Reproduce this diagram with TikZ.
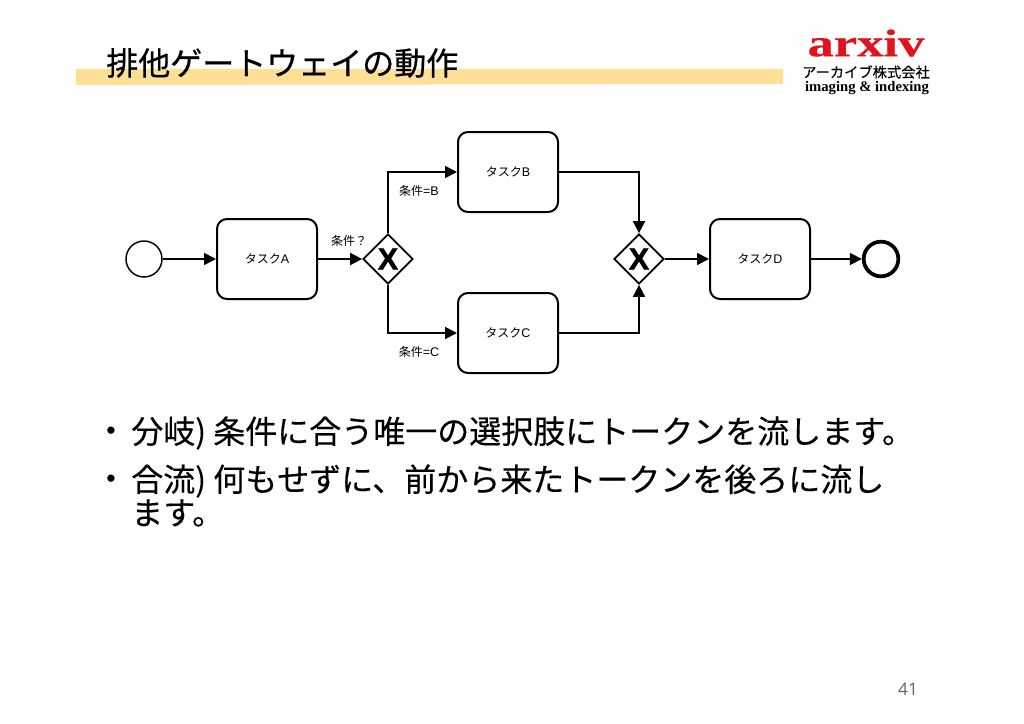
\documentclass[tikz,border=0pt]{standalone}
\usepackage{fontspec}
\setmainfont{Noto Sans CJK JP}[FakeBold=0.25]
\newfontfamily\plaincjk{Noto Sans CJK JP}
\newfontfamily\titlefont{Noto Sans CJK JP}[FakeBold=0.6]
\newfontfamily\logofont{Liberation Serif}[FakeStretch=1.36,BoldFeatures={FakeBold=0.5,FakeStretch=1.36}]
\newfontfamily\logosmall{Liberation Serif}
\newfontfamily\numfont{Open Sans}
\newfontfamily\latinfont{Liberation Sans}
\newfontfamily\markfont{Liberation Sans}[BoldFeatures={FakeBold=1.2}]
\usetikzlibrary{arrows.meta,shapes.geometric}
\definecolor{band}{RGB}{253,224,150}
\definecolor{logored}{RGB}{225,20,30}
\definecolor{pagenum}{RGB}{100,100,100}
\tikzset{
  x=0.75pt,y=-0.75pt,
  task/.style={draw=black,line width=1.5pt,rounded corners=7.5pt,minimum width=75pt,minimum height=60pt,inner sep=0pt,font=\fontsize{9}{10}\plaincjk,fill=white},
  gateway/.style={draw=black,line width=1.3pt,diamond,aspect=1,minimum width=37.5pt,minimum height=37.5pt,inner sep=0pt,fill=white},
  gatemark/.style={font=\fontsize{23}{23}\markfont\bfseries,inner sep=0pt},
  startev/.style={draw=black,circle,line width=1.1pt,minimum size=27pt,inner sep=0pt,fill=white},
  endev/.style={draw=black,circle,line width=2.8pt,minimum size=26pt,inner sep=0pt,fill=white},
  flow/.style={draw=black,line width=1.3pt,-{Triangle[length=9pt,width=9pt]}},
  lbl/.style={font=\fontsize{9}{10}\plaincjk,inner sep=0pt},
  bodytext/.style={font=\fontsize{24}{30}\selectfont,inner sep=0pt,anchor=west},
  bulletmark/.style={font=\fontsize{20}{20}\latinfont,inner sep=0pt},
}
\newcommand{\ltn}[1]{{\latinfont\fontsize{9.4}{10}\selectfont #1}}
\begin{document}
\begin{tikzpicture}
\useasboundingbox (0,0) rectangle (1024,724);
\fill[band] (76,69) -- (783,69) -- (783,84) -- (76,85) -- cycle;
\node[font=\fontsize{24}{28}\titlefont,inner sep=0pt,anchor=west] (title) at (106,63) {排他ゲートウェイの動作};
\node[font=\fontsize{29}{29}\logofont\bfseries,text=logored,inner sep=0pt] (logo) at (866,43) {arxiv};
\node[font=\fontsize{10.7}{12}\selectfont,inner sep=0pt] (logoja) at (866,72) {アーカイブ株式会社};
\node[font=\fontsize{11}{12}\logosmall\bfseries,inner sep=0pt] (logoen) at (867,88) {imaging \& indexing};

\node[startev] (start) at (144,259) {};
\node[task] (a) at (267,259) {タスク\ltn{A}};
\node[gateway] (g1) at (388,259) {};
\node[gatemark] (x1) at (388,259) {X};
\node[task] (b) at (508,172) {タスク\ltn{B}};
\node[task] (c) at (508,333) {タスク\ltn{C}};
\node[gateway] (g2) at (639,259) {};
\node[gatemark] (x2) at (639,259) {X};
\node[task] (d) at (760,259) {タスク\ltn{D}};
\node[endev] (end) at (881,259) {};

\draw[flow] (start) -- (a);
\draw[flow] (a) -- (g1);
\draw[flow] (g1.north) |- (b.west);
\draw[flow] (g1.south) |- (c.west);
\draw[flow] (b.east) -| (g2.north);
\draw[flow] (c.east) -| (g2.south);
\draw[flow] (g2) -- (d);
\draw[flow] (d) -- (end);

\node[lbl] (q) at (349,241) {条件？};
\node[lbl] (lb) at (419,191) {条件\ltn{=B}};
\node[lbl] (lc) at (419,352) {条件\ltn{=C}};

\node[bulletmark] (b1) at (111,433) {•};
\node[bodytext] (t1) at (131,433) {分岐) 条件に合う唯一の選択肢にトークンを流します。};
\node[bulletmark] (b2) at (111,481) {•};
\node[bodytext] (t2) at (131,481) {合流) 何もせずに、前から来たトークンを後ろに流し};
\node[bodytext] (t3) at (131,513) {ます。};
\node[font=\fontsize{13}{14}\numfont,text=pagenum,inner sep=0pt] (num) at (908,689) {41};
\end{tikzpicture}
\end{document}
